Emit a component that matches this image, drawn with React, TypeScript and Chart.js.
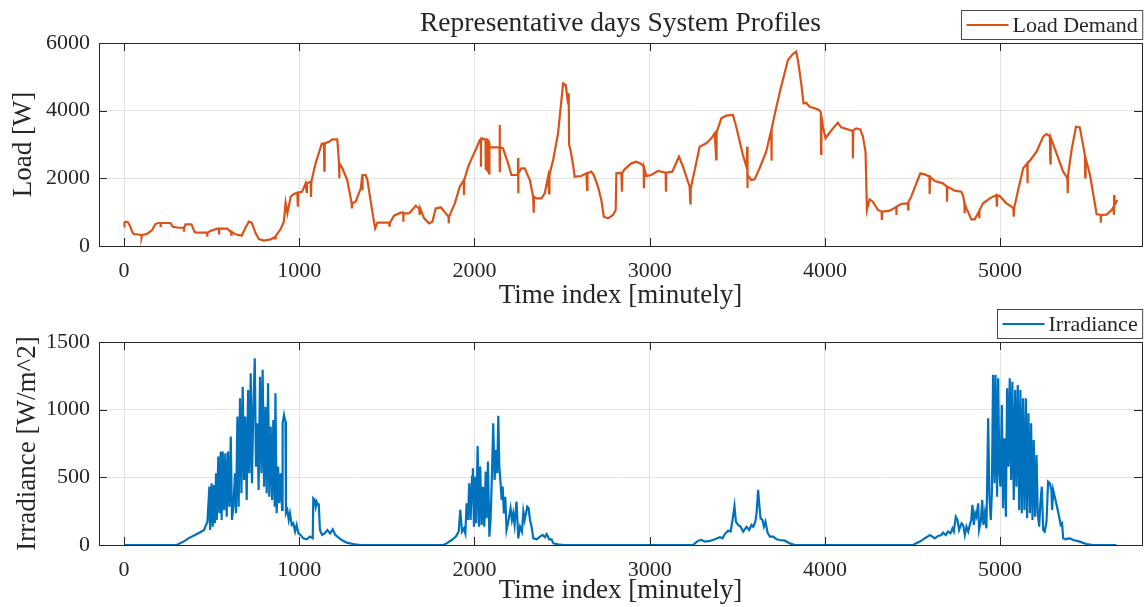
import { useEffect, useRef } from "react";
import { Chart, registerables } from "chart.js";

Chart.register(...registerables);

// Load demand in watts, sampled per minute: [minute, W]
const LOAD_POINTS: [number, number][] = [
  [0, 570], [2, 690], [10, 720], [23, 700], [36, 570], [46, 420], [55, 355], [99, 325], [100, 256], [103, 325],
  [131, 355], [160, 473], [179, 650], [194, 680], [208, 680], [209, 565], [210, 680], [265, 680], [278, 570],
  [312, 540], [341, 540], [342, 420], [343, 540], [351, 640], [385, 640], [402, 420], [417, 394], [474, 394],
  [475, 276], [476, 394], [493, 443], [531, 512], [541, 512], [542, 375], [543, 512], [589, 512], [608, 420],
  [613, 330], [614, 420], [636, 345], [671, 305], [693, 540], [712, 720], [728, 690], [751, 374], [770, 207],
  [798, 158], [836, 197], [861, 260], [862, 227], [865, 295], [893, 493], [912, 720], [922, 1281], [932, 965],
  [951, 1458], [970, 1537], [989, 1576], [992, 1162], [995, 1576], [1017, 1606], [1036, 1852], [1042, 1600],
  [1044, 1852], [1065, 1900], [1067, 1450], [1069, 1900], [1093, 2443], [1128, 3015], [1141, 3034], [1143, 2226],
  [1145, 3034], [1170, 3083], [1189, 3152], [1217, 3152], [1227, 2443], [1228, 2000], [1230, 2443], [1246, 2295],
  [1274, 1950], [1299, 1261], [1300, 1113], [1303, 1261], [1322, 1310], [1351, 1704], [1360, 2098], [1361, 1650],
  [1362, 2098], [1379, 2098], [1389, 1950], [1414, 1113], [1433, 522], [1446, 690], [1513, 690], [1516, 571],
  [1518, 690], [1541, 896], [1579, 985], [1593, 985], [1594, 720], [1595, 965], [1627, 965], [1665, 1192],
  [1684, 1113], [1688, 920], [1690, 1113], [1713, 818], [1741, 670], [1760, 720], [1779, 1113], [1808, 1143],
  [1836, 965], [1852, 867], [1853, 670], [1855, 867],
  [1888, 1261], [1916, 1754], [1939, 1950], [1940, 1507], [1942, 1950], [1964, 2345], [1989, 2640], [2011, 2887],
  [2030, 3133], [2036, 3133], [2037, 2345], [2038, 3150], [2040, 3182], [2059, 3152], [2063, 3140], [2064, 2247],
  [2065, 3140], [2072, 3140], [2073, 2197], [2074, 3140], [2082, 3100], [2083, 2148], [2084, 3050], [2087, 2916],
  [2143, 2916], [2144, 3576], [2145, 2177], [2146, 2916], [2163, 2887], [2192, 2443], [2211, 2098], [2248, 2098],
  [2249, 2600], [2250, 1556], [2251, 2150], [2268, 2295], [2287, 2295], [2316, 1950], [2335, 1458], [2338, 985],
  [2340, 1458], [2354, 1409], [2382, 1409], [2401, 1556], [2420, 2049], [2426, 1556], [2428, 2100], [2449, 2542],
  [2477, 3330], [2506, 4808], [2521, 4759], [2534, 4217], [2538, 4512], [2540, 3000], [2548, 2837], [2563, 2394],
  [2572, 2049], [2610, 2069], [2639, 2148], [2643, 1655], [2645, 2148], [2667, 2197], [2681, 2098], [2705, 1754],
  [2724, 1360], [2738, 867], [2762, 818], [2791, 916], [2806, 1064], [2810, 2148], [2838, 2167], [2842, 1606],
  [2844, 2167], [2857, 2266], [2895, 2443], [2924, 2493], [2952, 2424], [2966, 2340], [2967, 1704], [2969, 2300],
  [2981, 2069], [3009, 2098], [3047, 2217], [3091, 2167], [3093, 1606], [3095, 2167], [3129, 2197], [3167, 2640],
  [3190, 2345], [3228, 1754], [3232, 1261], [3234, 1700], [3257, 2246], [3285, 2936], [3323, 3034], [3352, 3182],
  [3371, 3330], [3380, 2562], [3382, 3360], [3390, 3478], [3409, 3773], [3437, 3852], [3475, 3872], [3494, 3527],
  [3532, 2690], [3555, 2300], [3556, 2936], [3557, 1714], [3560, 2100], [3580, 1950], [3599, 1970], [3627, 2295],
  [3665, 2788], [3694, 3428], [3695, 2522], [3697, 3450], [3713, 3872], [3741, 4512], [3770, 5103], [3789, 5497],
  [3817, 5675], [3836, 5744],
  [3846, 5497], [3865, 4808], [3878, 4217], [3893, 4236], [3912, 4118], [3941, 4069], [3966, 4020], [3977, 3950],
  [3978, 2719], [3980, 3850], [3989, 3527], [4004, 3182], [4017, 3281], [4046, 3478], [4074, 3645], [4093, 3507],
  [4131, 3448], [4150, 3409], [4159, 3420], [4160, 2591], [4162, 3420], [4179, 3478], [4202, 3448], [4217, 3232],
  [4232, 2788], [4240, 1064], [4255, 1379], [4274, 1310], [4303, 1064], [4324, 1015], [4325, 768], [4327, 1015],
  [4370, 1044], [4407, 1150], [4408, 916], [4410, 1163], [4436, 1241], [4474, 1261], [4475, 1084], [4477, 1300],
  [4493, 1458], [4522, 1852], [4545, 2148], [4570, 2118], [4597, 2049], [4598, 1537], [4600, 2049], [4627, 1921],
  [4674, 1852], [4696, 1754], [4697, 1310], [4699, 1754], [4741, 1636], [4779, 1606], [4789, 1478], [4796, 1300],
  [4797, 965], [4799, 1250], [4808, 1113], [4836, 788], [4855, 788], [4880, 1015], [4881, 820], [4883, 1050],
  [4903, 1261], [4941, 1409], [4979, 1507], [4982, 1163], [4984, 1500], [4998, 1478], [5036, 1261], [5065, 1163],
  [5076, 1113], [5078, 867], [5080, 1113], [5103, 1655], [5132, 2296], [5155, 2443], [5156, 1852], [5158, 2443],
  [5173, 2542], [5208, 2788], [5246, 3232], [5265, 3310], [5284, 3251], [5287, 2443], [5289, 3200], [5322, 2739],
  [5360, 2197], [5379, 2049], [5385, 1950], [5386, 1556], [5388, 2100], [5408, 2837], [5433, 3527], [5455, 3507],
  [5484, 2690], [5486, 2030], [5488, 2600], [5513, 2098], [5551, 946], [5574, 916], [5575, 690], [5577, 916],
  [5608, 926], [5637, 1064], [5648, 1163], [5650, 920], [5651, 1507], [5653, 1200], [5669, 1360],
];

// Solar irradiance in W/m^2, sampled per minute: [minute, W/m^2]
const IRRADIANCE_POINTS: [number, number][] = [
  [0, 0], [300, 0], [339, 25], [367, 49], [405, 74], [434, 94], [457, 111], [468, 148], [476, 172], [487, 431],
  [491, 111], [500, 456], [506, 135], [514, 444], [519, 160], [525, 530], [529, 185], [538, 653], [544, 234],
  [552, 690], [557, 185], [563, 690], [571, 259], [578, 678], [586, 209], [593, 690], [601, 283], [609, 801],
  [616, 185], [624, 283], [633, 530], [639, 234], [647, 949], [654, 283], [662, 1084], [670, 382], [677, 1170],
  [685, 481], [692, 949], [700, 333], [708, 1146], [715, 530], [723, 1269], [730, 456], [738, 1022], [746, 1380],
  [753, 579], [761, 899], [768, 407], [776, 1244], [784, 530], [791, 1294], [799, 431], [807, 1022], [814, 382],
  [822, 1195], [829, 357], [837, 875], [845, 333], [852, 924], [860, 283], [864, 1121], [871, 234], [879, 579],
  [886, 308], [894, 530], [902, 259], [905, 899], [913, 961], [921, 912], [924, 234], [932, 259], [940, 185],
  [947, 234], [957, 148], [966, 160], [976, 99], [985, 148], [995, 86], [1008, 74], [1023, 49], [1042, 42],
  [1061, 62], [1077, 49], [1080, 345], [1088, 333], [1094, 283], [1099, 320], [1107, 296], [1111, 308], [1118, 111],
  [1130, 74], [1145, 86], [1160, 111], [1176, 86], [1191, 116], [1206, 74], [1223, 57], [1242, 37], [1271, 17],
  [1309, 7], [1347, 0],
  [1822, 0], [1841, 12], [1870, 37], [1894, 62], [1910, 99], [1919, 259], [1929, 99], [1940, 123], [1948, 86],
  [1955, 308], [1963, 185], [1970, 456], [1978, 185], [1986, 505], [1991, 567], [1997, 135], [2005, 505], [2010, 160],
  [2018, 732], [2026, 135], [2033, 579], [2041, 148], [2048, 431], [2056, 135], [2064, 542], [2069, 197], [2077, 616],
  [2085, 62], [2092, 185], [2100, 530], [2107, 899], [2115, 481], [2123, 702], [2130, 530], [2136, 954], [2142, 579],
  [2149, 456], [2155, 333], [2161, 431], [2168, 234], [2176, 357], [2183, 111], [2195, 185], [2206, 271], [2214, 185],
  [2221, 234], [2229, 148], [2240, 320], [2250, 49], [2260, 135], [2271, 99], [2279, 246], [2286, 185], [2294, 234],
  [2301, 283], [2309, 271], [2317, 185], [2326, 135], [2336, 49], [2355, 42], [2374, 62], [2389, 74], [2402, 57],
  [2412, 81], [2427, 42], [2440, 42], [2450, 12], [2478, 5], [2507, 0],
  [3249, 0], [3258, 12], [3277, 32], [3296, 37], [3315, 25], [3344, 30], [3372, 42], [3401, 57], [3416, 49],
  [3429, 81], [3448, 106], [3462, 99], [3473, 185], [3484, 288], [3492, 172], [3505, 148], [3519, 135], [3534, 99],
  [3553, 135], [3568, 111], [3581, 148], [3591, 135], [3603, 172], [3610, 234], [3619, 407], [3625, 308], [3633, 197],
  [3644, 185], [3652, 135], [3661, 172], [3673, 91], [3686, 62], [3705, 62], [3724, 42], [3743, 37],
  [3772, 32], [3800, 12], [3829, 0],
  [4504, 0], [4513, 7], [4542, 25], [4570, 49], [4599, 74], [4614, 62], [4627, 49], [4646, 67], [4665, 74],
  [4675, 91], [4690, 74], [4703, 99], [4717, 86], [4728, 123], [4736, 99], [4747, 209], [4757, 185], [4766, 111],
  [4780, 160], [4789, 148], [4799, 74], [4808, 135], [4818, 99], [4827, 148], [4835, 185], [4842, 296], [4850, 148],
  [4858, 234], [4865, 209], [4875, 308], [4880, 111], [4890, 172], [4898, 333], [4905, 148], [4913, 234], [4922, 123],
  [4932, 936], [4939, 357], [4947, 185], [4953, 382], [4960, 1257], [4968, 456], [4974, 1257], [4983, 357],
  [4989, 1232], [4996, 542], [5002, 431], [5010, 1035], [5017, 271], [5025, 788], [5033, 209], [5040, 1158],
  [5048, 579], [5055, 1232], [5063, 481], [5070, 1207], [5078, 333], [5086, 1146], [5093, 431], [5101, 1183],
  [5109, 259], [5116, 1146], [5124, 234], [5131, 1084], [5139, 259], [5147, 1084], [5154, 197], [5162, 973],
  [5170, 234], [5177, 899], [5185, 185], [5192, 776], [5200, 209], [5208, 665], [5215, 234], [5223, 135],
  [5230, 308], [5238, 431], [5246, 111], [5255, 99], [5265, 172], [5274, 468], [5284, 456], [5293, 407],
  [5297, 259], [5303, 407], [5312, 357], [5325, 283], [5337, 209], [5346, 148], [5354, 160], [5360, 49],
  [5373, 42], [5388, 49], [5402, 47], [5417, 37], [5455, 25], [5493, 7], [5531, 0], [5664, 0],
];

const TIME_TICKS = [0, 1000, 2000, 3000, 4000, 5000];
const LOAD_TICKS = [0, 2000, 4000, 6000];
const IRRADIANCE_TICKS = [0, 500, 1000, 1500];
const TIME_MIN = -143;
const TIME_MAX = 5810;

const SERIF = "'Liberation Serif', 'Times New Roman', serif";
const INK = "#262626";
const GRID = "#e3e3e3";
const LOAD_COLOR = "#D95319";
const IRRADIANCE_COLOR = "#0072BD";

type Panel = {
  points: [number, number][];
  color: string;
  legend: string;
  yTitle: string;
  yTicks: number[];
  title?: string;
  padTop: number;
  xAxisHeight: number;
  xTitlePad: number;
  yTitlePad: number;
  legendTop: number;
};

// Box outline, inward tick marks, legend and optional title, drawn over the plot
const frame = (panel: Panel) => ({
  id: "frame",
  afterDraw(chart: any) {
    const { ctx, chartArea: a, scales } = chart;
    const tick = 8;
    ctx.save();
    ctx.strokeStyle = INK;
    ctx.lineWidth = 1;
    ctx.beginPath();
    for (const v of TIME_TICKS) {
      const x = Math.round(scales.x.getPixelForValue(v)) + 0.5;
      ctx.moveTo(x, a.bottom);
      ctx.lineTo(x, a.bottom - tick);
      ctx.moveTo(x, a.top);
      ctx.lineTo(x, a.top + tick);
    }
    for (const v of panel.yTicks) {
      const y = Math.round(scales.y.getPixelForValue(v)) + 0.5;
      ctx.moveTo(a.left, y);
      ctx.lineTo(a.left + tick, y);
      ctx.moveTo(a.right, y);
      ctx.lineTo(a.right - tick, y);
    }
    ctx.stroke();
    ctx.strokeRect(Math.round(a.left) + 0.5, Math.round(a.top) + 0.5, Math.round(a.right - a.left), Math.round(a.bottom - a.top));

    // legend
    ctx.font = `22px ${SERIF}`;
    const tw = ctx.measureText(panel.legend).width;
    const lineLen = 42;
    const boxW = 5 + lineLen + 4 + tw + 5;
    const boxH = 29;
    const bx = Math.round(a.right - boxW) + 0.5;
    const by = panel.legendTop + 0.5;
    ctx.fillStyle = "#ffffff";
    ctx.fillRect(bx, by, boxW, boxH);
    ctx.strokeStyle = "#4a4a4a";
    ctx.strokeRect(bx, by, boxW, boxH);
    const ly = by + boxH / 2;
    ctx.strokeStyle = panel.color;
    ctx.lineWidth = 2;
    ctx.beginPath();
    ctx.moveTo(bx + 5, ly);
    ctx.lineTo(bx + 5 + lineLen, ly);
    ctx.stroke();
    ctx.fillStyle = INK;
    ctx.textBaseline = "middle";
    ctx.textAlign = "left";
    ctx.fillText(panel.legend, bx + 5 + lineLen + 4, ly + 1);

    if (panel.title) {
      ctx.font = `27.5px ${SERIF}`;
      ctx.textAlign = "center";
      ctx.textBaseline = "alphabetic";
      ctx.fillText(panel.title, (a.left + a.right) / 2, 31);
    }
    ctx.restore();
  },
});

function buildChart(canvas: HTMLCanvasElement, panel: Panel) {
  const yMax = panel.yTicks[panel.yTicks.length - 1];
  return new Chart(canvas, {
    type: "line",
    data: {
      datasets: [
        {
          label: panel.legend,
          data: panel.points.map(([x, y]) => ({ x, y })),
          borderColor: panel.color,
          borderWidth: 2.2,
          pointRadius: 0,
          tension: 0,
          fill: false,
        },
      ],
    },
    options: {
      responsive: false,
      animation: false,
      devicePixelRatio: 1,
      layout: { padding: { top: panel.padTop, right: 3, left: 0, bottom: 0 } },
      plugins: { legend: { display: false }, tooltip: { enabled: false }, title: { display: false } },
      scales: {
        x: {
          type: "linear",
          min: TIME_MIN,
          max: TIME_MAX,
          afterBuildTicks: (s: any) => {
            s.ticks = TIME_TICKS.map((value) => ({ value }));
          },
          afterFit: (s: any) => {
            s.height = panel.xAxisHeight;
          },
          grid: { color: GRID, lineWidth: 1, drawTicks: false },
          border: { display: false },
          ticks: {
            color: INK,
            font: { family: SERIF, size: 22 },
            padding: 12,
            maxRotation: 0,
            callback: (v: any) => String(v),
          },
          title: {
            display: true,
            text: "Time index [minutely]",
            color: INK,
            font: { family: SERIF, size: 27 },
            padding: { top: 0, bottom: panel.xTitlePad },
          },
        },
        y: {
          type: "linear",
          min: 0,
          max: yMax,
          afterBuildTicks: (s: any) => {
            s.ticks = panel.yTicks.map((value) => ({ value }));
          },
          afterFit: (s: any) => {
            s.width = 99;
          },
          grid: { color: GRID, lineWidth: 1, drawTicks: false },
          border: { display: false },
          ticks: {
            color: INK,
            font: { family: SERIF, size: 22 },
            padding: 9,
            callback: (v: any) => String(v),
          },
          title: {
            display: true,
            text: panel.yTitle,
            color: INK,
            font: { family: SERIF, size: 27 },
            padding: { top: panel.yTitlePad, bottom: 0 },
          },
        },
      },
    },
    plugins: [frame(panel)],
  } as any);
}

const LOAD_PANEL: Panel = {
  points: LOAD_POINTS,
  color: LOAD_COLOR,
  legend: "Load Demand",
  yTitle: "Load [W]",
  yTicks: LOAD_TICKS,
  title: "Representative days System Profiles",
  padTop: 43,
  xAxisHeight: 74,
  xTitlePad: 8,
  yTitlePad: 8,
  legendTop: 10,
};

const IRRADIANCE_PANEL: Panel = {
  points: IRRADIANCE_POINTS,
  color: IRRADIANCE_COLOR,
  legend: "Irradiance",
  yTitle: "Irradiance [W/m^2]",
  yTicks: IRRADIANCE_TICKS,
  padTop: 42,
  xAxisHeight: 62,
  xTitlePad: 0,
  yTitlePad: 12,
  legendTop: 9,
};

function PanelChart({ panel, top, height }: { panel: Panel; top: number; height: number }) {
  const ref = useRef<HTMLCanvasElement | null>(null);
  useEffect(() => {
    if (!ref.current) return;
    const chart = buildChart(ref.current, panel);
    return () => chart.destroy();
  }, [panel]);
  return (
    <canvas
      ref={ref}
      width={1145}
      height={height}
      style={{ position: "absolute", left: 0, top, width: 1145, height, display: "block" }}
    />
  );
}

export default function App() {
  return (
    <div style={{ position: "absolute", left: 0, top: 0, width: 1145, height: 607, background: "#ffffff" }}>
      <PanelChart panel={IRRADIANCE_PANEL} top={300} height={307} />
      <PanelChart panel={LOAD_PANEL} top={0} height={320} />
    </div>
  );
}
